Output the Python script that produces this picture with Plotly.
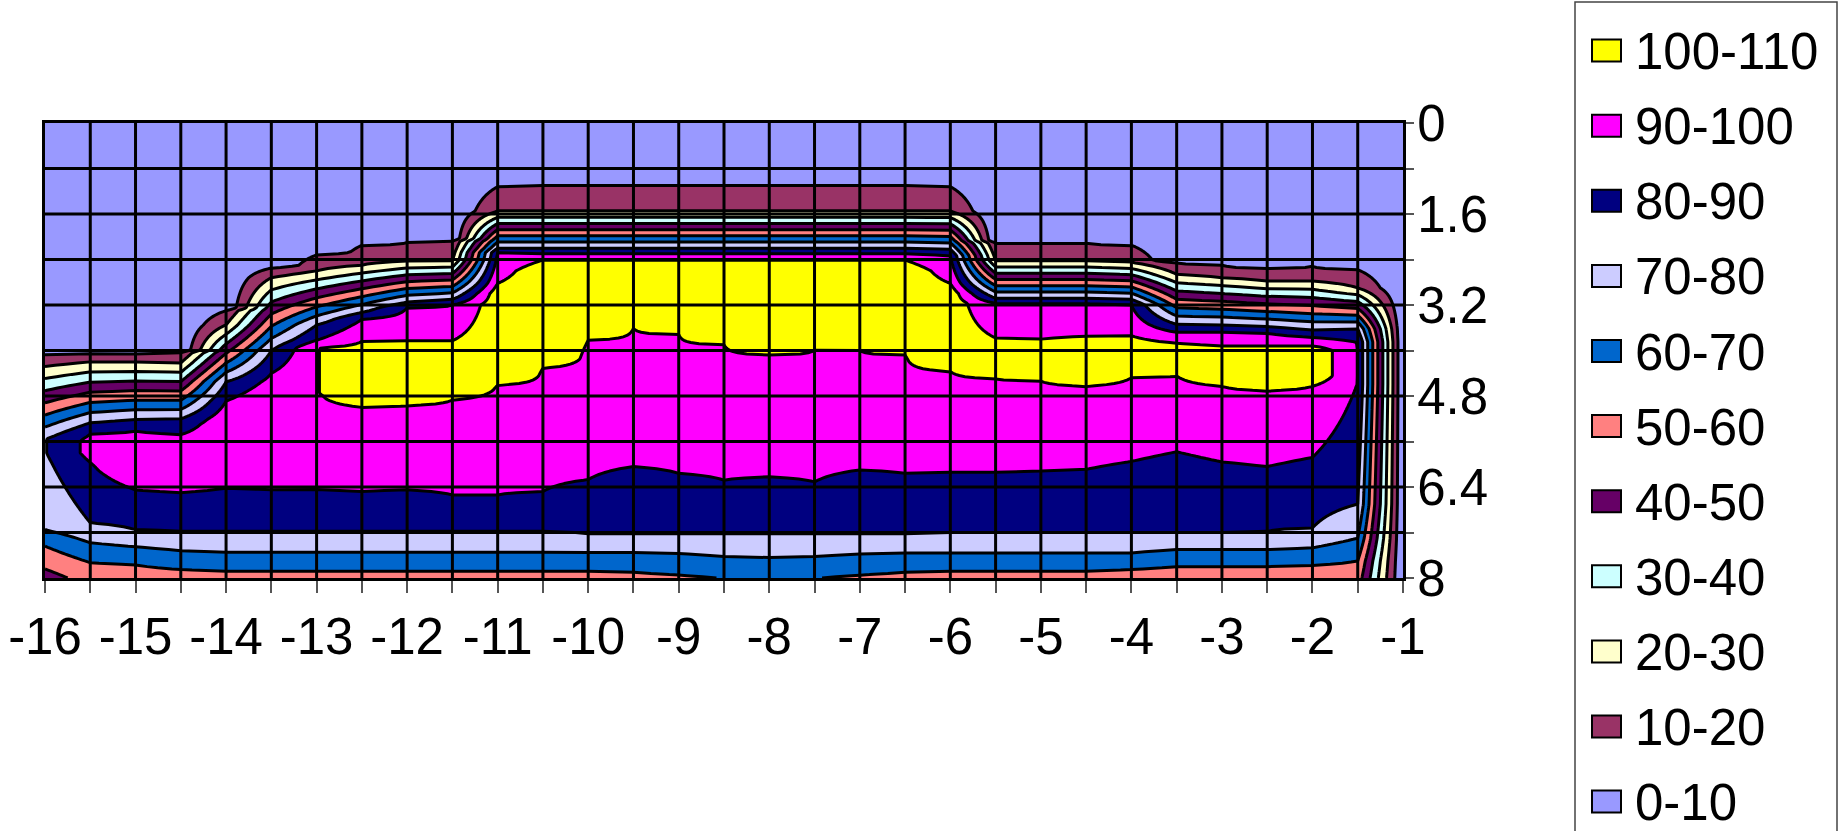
import numpy as np
import plotly.graph_objects as go

# ---- axes ---------------------------------------------------------------
X_VALUES = [-16, -15.5, -15, -14.5, -14, -13.5, -13, -12.5, -12, -11.5, -11,
            -10.5, -10, -9.5, -9, -8.5, -8, -7.5, -7, -6.5, -6, -5.5, -5,
            -4.5, -4, -3.5, -3, -2.5, -2, -1.5, -1]
X_TICK_LABELS = ['-16', '', '-15', '', '-14', '', '-13', '', '-12', '', '-11',
                 '', '-10', '', '-9', '', '-8', '', '-7', '', '-6', '', '-5',
                 '', '-4', '', '-3', '', '-2', '', '-1']
Y_TICKS = [0, 0.8, 1.6, 2.4, 3.2, 4.0, 4.8, 5.6, 6.4, 7.2, 8]
Y_TICK_LABELS = ['0', '', '1.6', '', '3.2', '', '4.8', '', '6.4', '', '8']

# ---- value bands --------------------------------------------------------
BAND_NAMES = ['0-10', '10-20', '20-30', '30-40', '40-50', '50-60',
              '60-70', '70-80', '80-90', '90-100', '100-110']
BAND_COLORS = ['#9999FF', '#993366', '#FFFFCC', '#CCFFFF', '#660066', '#FF8080',
               '#0066CC', '#CCCCFF', '#000080', '#FF00FF', '#FFFF00']

# ---- depth profile of every column --------------------------------------
# depth at which the value first reaches 10, 20, 80, 90, 100 (going down)
D10 = [4.07, 4.05, 4.06, 4.04, 3.30, 2.55, 2.32, 2.15, 2.10, 2.08, 1.12,
       1.10, 1.09, 1.09, 1.09, 1.09, 1.09, 1.09, 1.09, 1.10, 1.12, 2.11,
       2.11, 2.11, 2.15, 2.46, 2.50, 2.56, 2.52, 2.58, None]
D20 = [4.28, 4.20, 4.20, 4.22, 3.55, 2.72, 2.60, 2.50, 2.43, 2.42, 1.55,
       1.55, 1.55, 1.55, 1.55, 1.55, 1.55, 1.55, 1.55, 1.55, 1.55, 2.42,
       2.42, 2.42, 2.45, 2.66, 2.72, 2.78, 2.78, 2.90, None]
D80 = [None, 5.27, 5.21, 5.20, 4.55, 4.00, 3.55, 3.33, 3.15, 3.10, 2.20,
       2.20, 2.20, 2.20, 2.20, 2.20, 2.20, 2.20, 2.20, 2.20, 2.22, 3.08,
       3.08, 3.08, 3.10, 3.54, 3.55, 3.58, 3.64, 3.62, None]
D90 = [None, 5.47, 5.42, 5.48, 4.89, 4.40, 3.82, 3.45, 3.25, 3.20, 2.28,
       2.30, 2.30, 2.30, 2.30, 2.30, 2.30, 2.30, 2.30, 2.30, 2.33, 3.17,
       3.17, 3.17, 3.20, 3.68, 3.68, 3.70, 3.77, None, None]
D100 = [None, None, None, None, None, None, None, 3.84, 3.83, 3.83, 2.82,
        2.41, 2.41, 2.41, 2.41, 2.41, 2.41, 2.41, 2.41, 2.41, 2.82, 3.78,
        3.80, 3.75, 3.74, 3.87, 3.92, 3.92, 3.92, None, None]
# maximum of the column and the depth span over which it holds
PK = [79.5, 93, 96, 97.5, 98.5, 99.2, 99.8, 103, 104, 104, 106,
      106, 106, 106, 106, 106, 106, 106, 106, 106, 106, 104,
      104, 104, 104, 104, 104, 104, 108, 89.8, None]
PKA = [5.55, 5.60, 5.70, 5.80, 5.30, 4.90, 3.95, 4.00, 4.00, 4.00, 3.00,
       2.60, 2.60, 2.60, 2.60, 2.60, 2.60, 2.60, 2.60, 2.60, 3.00, 3.95,
       3.95, 3.90, 3.90, 4.00, 4.05, 4.05, 4.00, 3.85, None]
PKB = [5.80, 5.80, 6.10, 6.10, 5.90, 5.60, 4.75, 4.85, 4.80, 4.70, 4.45,
       4.15, 3.65, 3.45, 3.55, 3.75, 3.90, 3.80, 3.85, 3.90, 4.20, 4.35,
       4.40, 4.45, 4.30, 4.30, 4.45, 4.55, 4.45, 4.60, None]
# depth at which the value falls back below 100, 90, 80, 70, 60
U100 = [None, None, None, None, None, None, None, 5.00, 4.97, 4.87, 4.61,
        4.31, 3.82, 3.61, 3.72, 3.90, 4.08, 3.99, 4.00, 4.08, 4.37, 4.50,
        4.54, 4.63, 4.48, 4.45, 4.63, 4.71, 4.63, None, None]
U90 = [None, 5.97, 6.45, 6.50, 6.42, 6.45, 6.45, 6.48, 6.45, 6.54, 6.54,
       6.48, 6.27, 6.04, 6.16, 6.28, 6.22, 6.31, 6.10, 6.16, 6.14, 6.14,
       6.12, 6.09, 5.95, 5.78, 5.96, 6.04, 5.88, None, None]
U80 = [None, 7.03, 7.15, 7.18, 7.18, 7.18, 7.18, 7.18, 7.18, 7.18, 7.18,
       7.18, 7.22, 7.22, 7.22, 7.22, 7.22, 7.22, 7.22, 7.22, 7.20, 7.20,
       7.20, 7.20, 7.20, 7.20, 7.20, 7.18, 7.12, 6.70, None]
U70 = [7.15, 7.38, 7.45, 7.52, 7.55, 7.55, 7.55, 7.55, 7.55, 7.55, 7.55,
       7.55, 7.55, 7.55, 7.57, 7.62, 7.64, 7.62, 7.58, 7.56, 7.56, 7.56,
       7.56, 7.56, 7.56, 7.50, 7.50, 7.50, 7.47, 7.30, None]
U60 = [7.44, 7.73, 7.77, 7.85, 7.88, 7.88, 7.88, 7.88, 7.88, 7.88, 7.88,
       7.88, 7.88, 7.90, 7.95, None, None, None, 7.95, 7.90, 7.88, 7.88,
       7.88, 7.88, 7.85, 7.80, 7.80, 7.80, 7.78, 7.70, None]
# value at the bottom edge (depth 8)
ZB = [46, 54, 56, 57, 57.5, 57.5, 57.5, 57.5, 57.5, 57.5, 57.5,
      57.5, 57.5, 57.5, 58.5, 60.3, 61, 60.3, 58.5, 57.5, 57.5, 57.5,
      57.5, 57.5, 57, 55, 55, 55, 55, 55, 0]

# ---- value table on a fine depth grid -----------------------------------
depth = np.linspace(0, 8, 401)
columns = []
for k in range(len(X_VALUES)):
    knots = [(0.0, 0.0)]
    if D10[k] is not None:
        knots += [(D10[k] - 0.05, 0.0), (D10[k], 10.0)]
    for arr, lvl in ((D20, 20), (D80, 80), (D90, 90), (D100, 100)):
        if arr[k] is not None:
            knots.append((arr[k], lvl))
    if PKA[k] is not None:
        knots += [(PKA[k], PK[k]), (PKB[k], PK[k])]
    for arr, lvl in ((U100, 100), (U90, 90), (U80, 80), (U70, 70), (U60, 60)):
        if arr[k] is not None:
            knots.append((arr[k], lvl))
    knots.append((8.0, ZB[k]))
    d, v = zip(*knots)
    columns.append(np.interp(depth, d, v))
z = np.array(columns).T

FONT = 'Liberation Sans, Arial, sans-serif'
TICK_SIZE = 51

fig = go.Figure()
fig.add_trace(go.Contour(
    x=X_VALUES, y=depth, z=z,
    contours=dict(start=10, end=100, size=10, coloring='fill', showlines=True),
    line=dict(color='black', width=3, smoothing=0),
    colorscale=[[i / 10, c] for i, c in enumerate(BAND_COLORS)],
    showscale=False, hoverinfo='skip'))

# grid drawn on top of the filled bands
for xv in X_VALUES[1:-1]:
    fig.add_shape(type='line', xref='x', yref='y', x0=xv, x1=xv, y0=0, y1=8,
                  line=dict(color='black', width=3), layer='above')
for yv in Y_TICKS[1:-1]:
    fig.add_shape(type='line', xref='x', yref='y', x0=-16, x1=-1, y0=yv, y1=yv,
                  line=dict(color='black', width=3), layer='above')

# ---- legend box (pixel layout converted to paper units) ----------------
L, T, W, H = 45, 123, 1358, 455
def px_x(p):
    return (p - L) / W
def px_y(p):
    return (T + H - p) / H

fig.add_shape(type='rect', xref='paper', yref='paper',
              x0=px_x(1575), x1=px_x(1837), y0=px_y(2), y1=px_y(900),
              line=dict(color='#444', width=1.5), fillcolor='white', layer='below')
for i, (name, color) in enumerate(zip(BAND_NAMES[::-1], BAND_COLORS[::-1])):
    cy = 50.6 + 75.1 * i
    fig.add_shape(type='rect', xref='paper', yref='paper',
                  x0=px_x(1592), x1=px_x(1621), y0=px_y(cy - 11), y1=px_y(cy + 11),
                  line=dict(color='black', width=2), fillcolor=color, layer='above')
    fig.add_annotation(xref='paper', yref='paper', x=px_x(1633), y=px_y(cy + 1),
                       xanchor='left', yanchor='middle', text=name, showarrow=False,
                       font=dict(family=FONT, size=TICK_SIZE, color='black'))

fig.update_layout(
    width=1846, height=831, template='none',
    margin=dict(l=L, r=1846 - L - W, t=T, b=831 - T - H),
    paper_bgcolor='white', plot_bgcolor=BAND_COLORS[0], showlegend=False,
    font=dict(family=FONT, color='black'))
fig.update_xaxes(
    range=[-16, -1], tickmode='array', tickvals=X_VALUES, ticktext=X_TICK_LABELS,
    ticks='outside', ticklen=12, tickwidth=2, tickcolor='#555',
    tickfont=dict(size=TICK_SIZE), ticklabelstandoff=0,
    showgrid=False, zeroline=False, showline=True, mirror=True,
    linecolor='black', linewidth=3, layer='above traces', automargin=False)
fig.update_yaxes(
    range=[8, 0], side='right', tickmode='array', tickvals=Y_TICKS,
    ticktext=Y_TICK_LABELS, ticks='outside', ticklen=8, tickwidth=2,
    tickcolor='#555', tickfont=dict(size=TICK_SIZE), ticklabelstandoff=-7,
    showgrid=False, zeroline=False, showline=True, mirror=True,
    linecolor='black', linewidth=3, layer='above traces', automargin=False)

fig.write_html('out.html')
